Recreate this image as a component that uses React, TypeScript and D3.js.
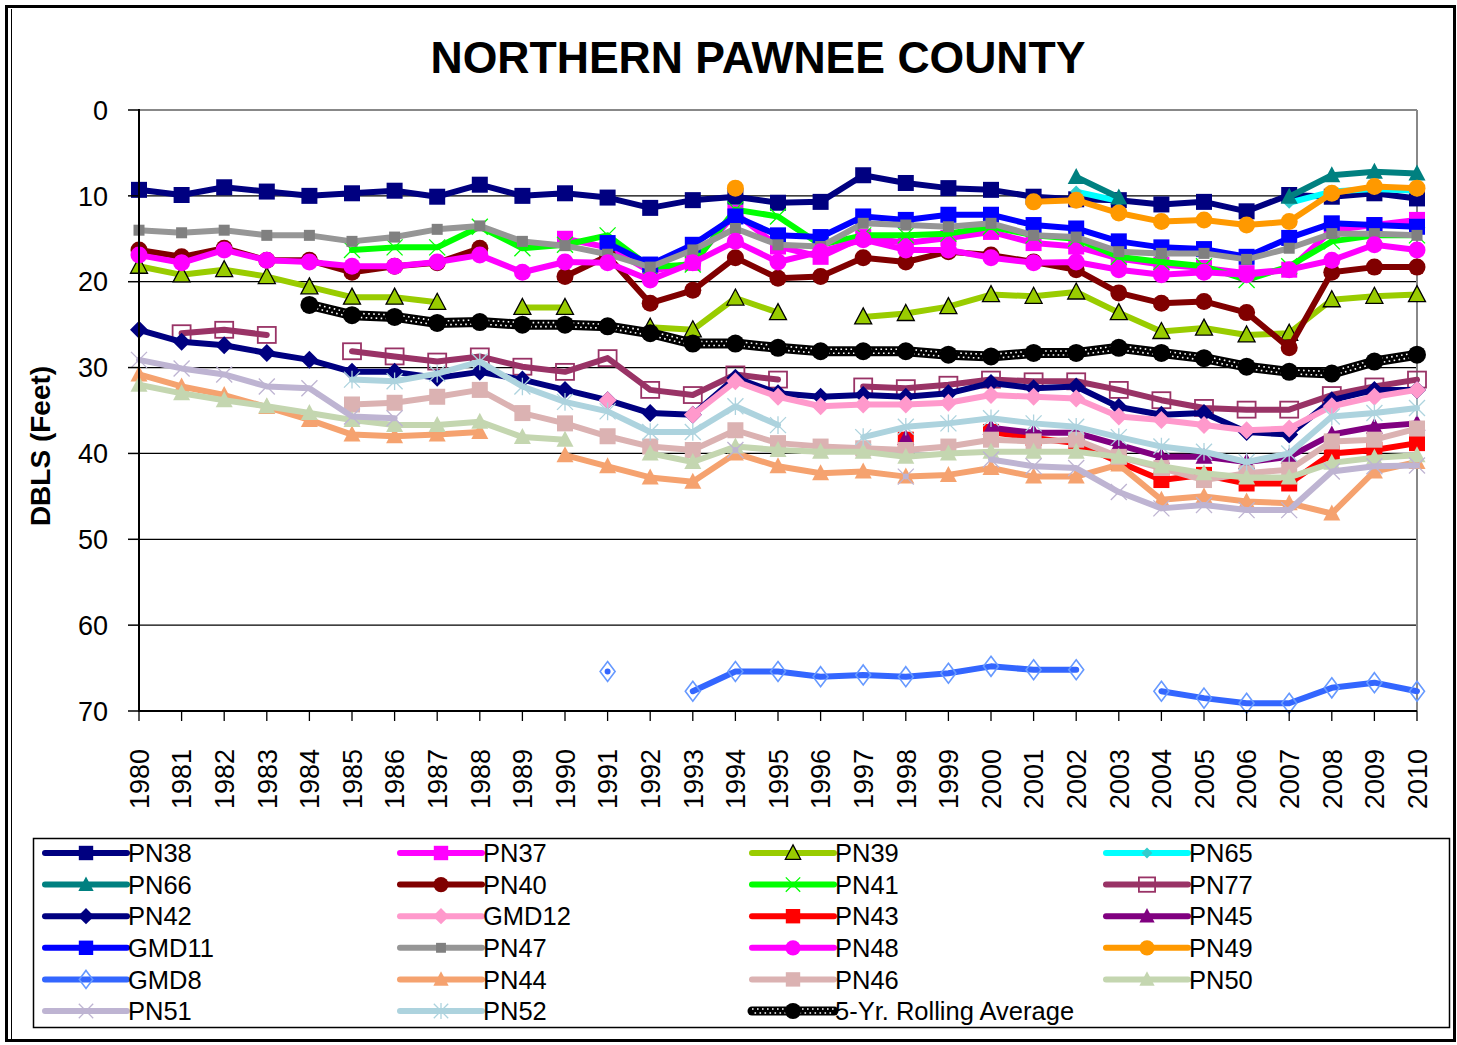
import React, { useEffect } from "react";
import * as d3 from "d3";

const years: number[] = d3.range(1980, 2011);
const yTicks: number[] = [0, 10, 20, 30, 40, 50, 60, 70];
const N = null;

const PN38 = [9.3, 9.9, 9.0, 9.5, 10.0, 9.7, 9.4, 10.1, 8.7, 10.0, 9.7, 10.2, 11.4, 10.5, 10.1, 10.8, 10.7, 7.6, 8.5, 9.1, 9.3, 10.1, 10.4, 10.5, 11.0, 10.7, 11.8, 9.9, 10.1, 9.7, 10.3];
const PN37 = [N, N, N, N, N, N, N, N, N, N, 15.0, 16.0, 18.8, 17.8, 12.0, 15.9, 17.1, 14.8, 15.5, 14.9, 14.2, 15.5, 15.9, 17.3, 18.0, 18.4, 19.0, 18.6, 14.0, 13.4, 12.8];
const PN39 = [18.2, 19.2, 18.6, 19.4, 20.6, 21.8, 21.8, 22.4, N, 23.0, 23.0, N, 25.3, 25.6, 21.9, 23.6, N, 24.1, 23.7, 22.9, 21.5, 21.7, 21.2, 23.6, 25.8, 25.4, 26.2, 26.0, 22.1, 21.7, 21.5];
const PN65 = [N, N, N, N, N, N, N, N, N, N, N, N, N, N, N, N, N, N, N, N, N, N, 9.5, 10.6, N, N, N, 10.8, 9.5, 9.2, 9.4];
const PN66 = [N, N, N, N, N, N, N, N, N, N, N, N, N, N, N, N, N, N, N, N, N, N, 7.8, 10.2, N, N, N, 10.1, 7.6, 7.2, 7.4];
const PN40 = [16.3, 17.1, 16.1, 17.5, 17.5, 18.9, 18.2, 17.8, 16.1, N, 19.4, 17.0, 22.5, 21.0, 17.2, 19.6, 19.4, 17.2, 17.7, 16.5, 16.9, 17.7, 18.6, 21.3, 22.5, 22.3, 23.6, 27.7, 18.9, 18.3, 18.3];
const PN41 = [N, N, N, N, N, 16.3, 16.0, 16.0, 13.6, 16.1, 15.7, 14.6, 18.3, 18.0, 11.6, 12.4, 15.7, 14.6, 14.6, 14.4, 13.6, 14.6, 15.0, 17.1, 17.7, 18.2, 19.8, 18.2, 15.3, 14.6, 14.6];
const PN77 = [N, 26.0, 25.6, 26.2, N, 28.1, 28.7, 29.3, 28.7, 29.9, 30.5, 28.9, 32.6, 33.2, 30.8, 31.4, N, 32.2, 32.4, 32.0, 31.4, 31.6, 31.6, 32.6, 33.8, 34.7, 34.9, 34.9, 33.2, 32.2, 31.4];
const PN42 = [25.6, 27.0, 27.4, 28.3, 29.1, 30.5, 30.5, 31.2, 30.5, 31.4, 32.6, 33.8, 35.3, 35.5, 31.2, 33.0, 33.4, 33.2, 33.4, 33.0, 31.8, 32.4, 32.2, 34.6, 35.5, 35.3, 37.5, 37.8, 33.8, 32.6, 32.6];
const GMD12 = [N, N, N, N, N, N, N, N, N, N, N, 33.8, N, 35.5, 31.6, 33.4, 34.5, 34.3, 34.3, 34.1, 33.2, 33.4, 33.6, 35.7, 36.1, 36.7, 37.3, 37.1, 34.5, 33.4, 32.6];
const PN43 = [N, N, N, N, N, N, N, N, N, N, N, N, N, N, N, N, N, N, 38.4, N, 37.5, 38.2, 38.8, 41.0, 43.1, 42.5, 43.5, 43.5, 40.0, 39.6, 38.8];
const PN45 = [N, N, N, N, N, N, N, N, N, N, N, N, N, N, N, N, N, N, 38.2, N, 37.0, 37.6, 37.6, 39.0, 40.4, 40.4, 41.0, 40.4, 37.8, 36.9, 36.5];
const GMD11 = [N, N, N, N, N, N, N, N, N, N, N, 15.5, 18.0, 15.7, 12.4, 14.6, 14.8, 12.4, 12.8, 12.2, 12.2, 13.4, 13.8, 15.3, 16.0, 16.2, 17.1, 14.9, 13.2, 13.4, 13.6];
const PN47 = [14.0, 14.3, 14.0, 14.6, 14.6, 15.3, 14.8, 13.9, 13.5, 15.3, 15.8, 16.8, 18.3, 16.3, 13.8, 15.7, 15.9, 13.2, 13.4, 13.6, 13.2, 14.6, 14.8, 16.5, 16.7, 16.7, 17.4, 16.1, 14.4, 14.4, 14.6];
const PN48 = [16.9, 17.8, 16.3, 17.5, 17.7, 18.2, 18.2, 17.7, 16.9, 18.9, 17.7, 17.8, 19.8, 17.8, 15.3, 17.7, 16.5, 15.1, 16.3, 16.3, 17.2, 17.8, 17.7, 18.6, 19.2, 18.9, 19.2, 18.6, 17.5, 15.7, 16.3];
const PN49 = [N, N, N, N, N, N, N, N, N, N, N, N, N, N, 9.1, N, N, N, N, N, N, 10.7, 10.5, 12.0, 13.0, 12.8, 13.4, 13.0, 9.7, 8.9, 9.1];
const GMD8 = [N, N, N, N, N, N, N, N, N, N, N, 65.4, N, 67.7, 65.4, 65.4, 66.0, 65.8, 66.0, 65.6, 64.8, 65.2, 65.2, N, 67.7, 68.5, 69.1, 69.1, 67.3, 66.7, 67.7];
const PN44 = [30.8, 32.2, 33.2, 34.6, 36.1, 37.8, 38.0, 37.8, 37.5, N, 40.2, 41.5, 42.8, 43.3, 40.0, 41.5, 42.3, 42.1, 42.7, 42.5, 41.7, 42.7, 42.7, 41.3, 45.4, 45.0, 45.6, 45.8, 47.0, 42.1, 41.0];
const PN46 = [N, N, N, N, N, 34.3, 34.1, 33.4, 32.6, 35.3, 36.5, 38.0, 39.2, 39.6, 37.3, 38.8, 39.2, 39.4, 39.6, 39.2, 38.4, 38.6, 38.4, 40.4, 41.7, 43.1, 42.3, 41.9, 38.6, 38.4, 37.1];
const PN50 = [32.0, 33.0, 33.8, 34.5, 35.3, 36.1, 36.7, 36.7, 36.3, 38.1, 38.4, N, 40.0, 41.0, 39.2, 39.6, 39.8, 39.8, 40.4, 40.0, 39.8, 39.8, 39.8, 40.4, 41.5, 42.3, 42.8, 42.8, 41.1, 40.5, 40.2];
const PN51 = [29.1, 30.1, 30.8, 32.2, 32.4, 35.7, 35.9, N, N, N, N, N, N, N, 39.6, N, N, N, 42.7, N, 40.7, 41.5, 41.7, 44.5, 46.4, 46.0, 46.6, 46.6, 42.1, 41.5, 41.4];
const PN52 = [N, N, N, N, N, 31.4, 31.6, 30.7, 29.3, 32.2, 34.0, 35.1, 37.5, 37.5, 34.5, 36.7, N, 38.1, 36.9, 36.5, 35.9, 36.5, 36.9, 38.1, 39.2, 39.8, 41.0, 40.0, 35.7, 35.3, 34.7];
const ROLLING = [N, N, N, N, 22.7, 23.9, 24.1, 24.8, 24.7, 25.0, 25.0, 25.2, 26.0, 27.2, 27.2, 27.7, 28.1, 28.1, 28.1, 28.5, 28.7, 28.3, 28.3, 27.7, 28.3, 28.9, 29.9, 30.5, 30.7, 29.3, 28.5];

type Marker = "square" | "triangle" | "diamond" | "circle" | "x" | "star" | "asterisk" | "opensquare" | "opendiamond" | "smalldiamond" | "graysquare";
interface Series { name: string; data: (number | null)[]; color: string; marker: Marker; mfill?: string; mstroke?: string; width?: number; rolling?: boolean; }

const series: Series[] = [
  { name: "PN38", data: PN38, color: "#000080", marker: "square" },
  { name: "PN37", data: PN37, color: "#FF00FF", marker: "square" },
  { name: "PN39", data: PN39, color: "#99CC00", marker: "triangle", mstroke: "#000000" },
  { name: "PN65", data: PN65, color: "#00FFFF", marker: "smalldiamond", mfill: "#33CCCC" },
  { name: "PN66", data: PN66, color: "#008080", marker: "triangle" },
  { name: "PN40", data: PN40, color: "#800000", marker: "circle" },
  { name: "PN41", data: PN41, color: "#00FF00", marker: "x" },
  { name: "PN77", data: PN77, color: "#993366", marker: "opensquare" },
  { name: "PN42", data: PN42, color: "#000080", marker: "diamond" },
  { name: "GMD12", data: GMD12, color: "#FF99CC", marker: "diamond" },
  { name: "PN43", data: PN43, color: "#FF0000", marker: "square" },
  { name: "PN45", data: PN45, color: "#800080", marker: "triangle" },
  { name: "GMD11", data: GMD11, color: "#0000FF", marker: "square" },
  { name: "PN47", data: PN47, color: "#969696", marker: "graysquare", mfill: "#808080" },
  { name: "PN48", data: PN48, color: "#FF00FF", marker: "circle" },
  { name: "PN49", data: PN49, color: "#FF9900", marker: "circle" },
  { name: "GMD8", data: GMD8, color: "#3366FF", marker: "opendiamond", mstroke: "#6699FF" },
  { name: "PN44", data: PN44, color: "#F5A26F", marker: "triangle" },
  { name: "PN46", data: PN46, color: "#DBB2B2", marker: "square" },
  { name: "PN50", data: PN50, color: "#C4D6B0", marker: "triangle" },
  { name: "PN51", data: PN51, color: "#BEB4D2", marker: "x" },
  { name: "PN52", data: PN52, color: "#ADD3DE", marker: "asterisk" },
  { name: "5-Yr. Rolling  Average", data: ROLLING, color: "#000000", marker: "circle", rolling: true },
];

const W = 1457, H = 1045;
const PL = 139, PR = 1417, PT = 110, PB = 711;
const FONT = "'Liberation Sans', Arial, sans-serif";

function MarkerShape({ s, cx, cy, scale = 1 }: { s: Series; cx: number; cy: number; scale?: number }) {
  const c = s.mfill || s.color;
  const k = scale;
  switch (s.marker) {
    case "square":
      return <rect x={cx - 8 * k} y={cy - 8 * k} width={16 * k} height={16 * k} fill={c} />;
    case "graysquare":
      return <rect x={cx - 5.5 * k} y={cy - 5.5 * k} width={11 * k} height={11 * k} fill={c} />;
    case "opensquare":
      return <rect x={cx - 9 * k} y={cy - 8 * k} width={18 * k} height={16 * k} fill="none" stroke={s.color} strokeWidth={1.8} />;
    case "triangle": {
      const p = `M${cx},${cy - 9 * k}L${cx + 8.5 * k},${cy + 7 * k}L${cx - 8.5 * k},${cy + 7 * k}Z`;
      return <path d={p} fill={c} stroke={s.mstroke || "none"} strokeWidth={1.3} />;
    }
    case "diamond": {
      const p = `M${cx},${cy - 9 * k}L${cx + 9 * k},${cy}L${cx},${cy + 9 * k}L${cx - 9 * k},${cy}Z`;
      return <path d={p} fill={c} />;
    }
    case "smalldiamond": {
      const p = `M${cx},${cy - 6 * k}L${cx + 6 * k},${cy}L${cx},${cy + 6 * k}L${cx - 6 * k},${cy}Z`;
      return <path d={p} fill={c} />;
    }
    case "opendiamond": {
      const p = `M${cx},${cy - 10 * k}L${cx + 7.5 * k},${cy}L${cx},${cy + 10 * k}L${cx - 7.5 * k},${cy}Z`;
      return <path d={p} fill="none" stroke={s.mstroke || s.color} strokeWidth={1.6} />;
    }
    case "circle":
      return <circle cx={cx} cy={cy} r={(s.rolling ? 9 : 8.5) * k} fill={c} />;
    case "x": {
      const r = 8 * k;
      return <path d={`M${cx - r},${cy - r}L${cx + r},${cy + r}M${cx - r},${cy + r}L${cx + r},${cy - r}`} stroke={c} strokeWidth={1.3} fill="none" />;
    }
    case "asterisk": {
      const r = 8 * k;
      return <path d={`M${cx - r},${cy - r}L${cx + r},${cy + r}M${cx - r},${cy + r}L${cx + r},${cy - r}M${cx},${cy - r * 1.1}L${cx},${cy + r * 1.1}`} stroke={c} strokeWidth={1.3} fill="none" />;
    }
    default:
      return null;
  }
}

function RollingLine({ d, w }: { d: string; w: number }) {
  return (
    <g>
      <path d={d} fill="none" stroke="#000" strokeWidth={w} strokeLinejoin="round" strokeLinecap="round" />
      <path d={d} transform="translate(0,-2)" fill="none" stroke="#fff" strokeWidth={1.6} strokeDasharray="1.6 3.4" />
      <path d={d} transform="translate(0,2)" fill="none" stroke="#fff" strokeWidth={1.6} strokeDasharray="1.6 3.4" strokeDashoffset={2.5} />
    </g>
  );
}

export default function App() {
  useEffect(() => {
    document.body.style.margin = "0";
  }, []);
  const x = d3.scaleLinear().domain([1980, 2010]).range([PL, PR]);
  const y = d3.scaleLinear().domain([0, 70]).range([PT, PB]);
  const line = d3
    .line<number | null>()
    .defined((v) => v !== null)
    .x((_, i) => x(years[i]))
    .y((v) => y(v as number));

  const legendCols = [45, 400, 752, 1106];
  const legendRow0 = 853;
  const legendDy = 31.6;

  return (
    <svg width={W} height={H} style={{ position: "absolute", left: 0, top: 0, background: "#fff" }} fontFamily={FONT}>
      <rect x={0} y={0} width={W} height={H} fill="#fff" />
      <rect x={6.5} y={6.5} width={1448} height={1034} fill="none" stroke="#000" strokeWidth={3} />
      <line x1={11.5} y1={9} x2={11.5} y2={1039} stroke="#000" strokeWidth={1} />

      <text x={758} y={73} textAnchor="middle" fontSize={45} fontWeight="bold" fill="#000" transform="translate(758,0) scale(0.99,1) translate(-758,0)">
        NORTHERN PAWNEE COUNTY
      </text>

      {yTicks.filter((t) => t > 0 && t < 70).map((t) => (
        <line key={t} x1={PL} x2={PR} y1={y(t)} y2={y(t)} stroke="#000" strokeWidth={1.2} />
      ))}
      <line x1={PL} x2={PR} y1={PT} y2={PT} stroke="#888" strokeWidth={2} />
      <line x1={PR} x2={PR} y1={PT} y2={PB} stroke="#888" strokeWidth={2} />

      {series.map((s) => {
        const d = line(s.data) || "";
        return (
          <g key={s.name}>
            {s.rolling ? (
              <RollingLine d={d} w={10} />
            ) : (
              <path d={d} fill="none" stroke={s.color} strokeWidth={6} strokeLinejoin="round" strokeLinecap="round" />
            )}
            {s.data.map((v, i) =>
              v === null ? null : <MarkerShape key={i} s={s} cx={x(years[i])} cy={y(v)} />
            )}
          </g>
        );
      })}

      <line x1={PL} x2={PL} y1={PT - 1} y2={PB + 1} stroke="#000" strokeWidth={2} />
      {yTicks.map((t) => (
        <g key={t}>
          <line x1={PL - 11} x2={PL} y1={y(t)} y2={y(t)} stroke="#000" strokeWidth={1.5} />
          <text x={108} y={y(t)} dy="0.36em" textAnchor="end" fontSize={27} fill="#000">
            {t}
          </text>
        </g>
      ))}
      <text transform={`translate(50,446) rotate(-90)`} textAnchor="middle" fontSize={28} fontWeight="bold" fill="#000">
        DBLS (Feet)
      </text>

      <line x1={PL} x2={PR} y1={PB} y2={PB} stroke="#000" strokeWidth={2} />
      {years.map((yr) => (
        <g key={yr}>
          <line x1={x(yr)} x2={x(yr)} y1={PB} y2={PB + 10} stroke="#000" strokeWidth={1.3} />
          <text transform={`translate(${x(yr)},749) rotate(-90)`} textAnchor="end" dy="0.36em" fontSize={27} fill="#000">
            {yr}
          </text>
        </g>
      ))}

      <rect x={33.5} y={838.5} width={1416} height={189} fill="#fff" stroke="#000" strokeWidth={1.5} />
      {series.map((s, i) => {
        const col = i % 4;
        const row = Math.floor(i / 4);
        const lx = legendCols[col];
        const ly = legendRow0 + row * legendDy;
        const d = `M${lx},${ly}L${lx + 82},${ly}`;
        return (
          <g key={s.name}>
            {s.rolling ? (
              <RollingLine d={d} w={9} />
            ) : (
              <path d={d} stroke={s.color} strokeWidth={6} strokeLinecap="round" />
            )}
            <MarkerShape s={s} cx={lx + 41} cy={ly} scale={0.9} />
            <text x={lx + 83} y={ly} dy="0.36em" fontSize={25.5} fill="#000">
              {s.name}
            </text>
          </g>
        );
      })}
    </svg>
  );
}
